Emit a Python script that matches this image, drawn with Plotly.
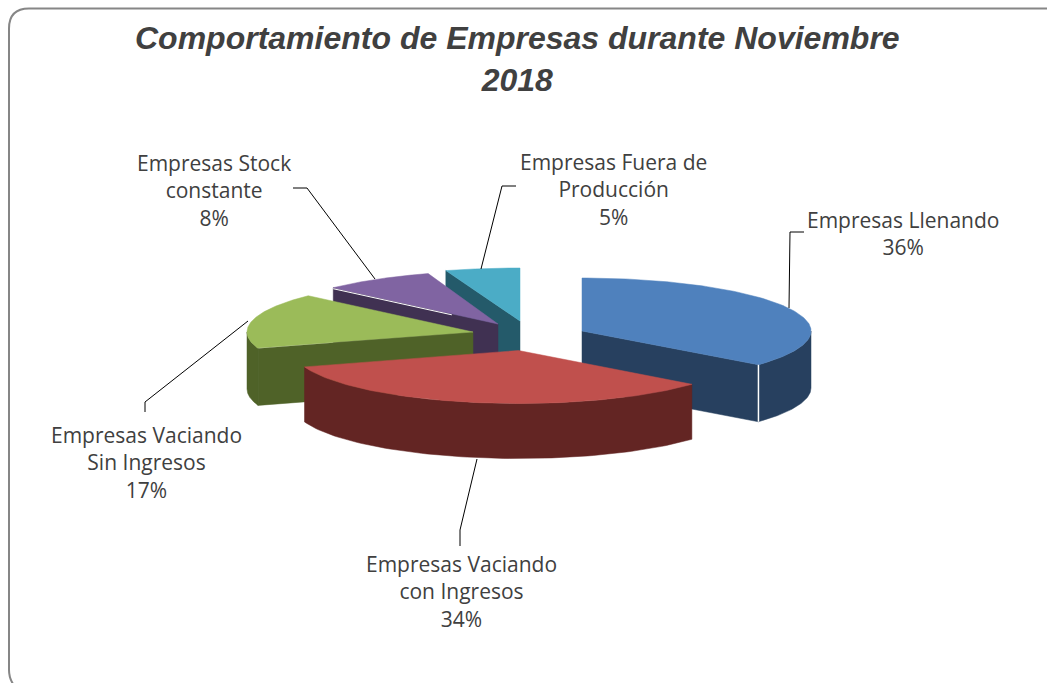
import numpy as np
import plotly.graph_objects as go

# ---- data ----
categories = ["Empresas Llenando", "Empresas Vaciando con Ingresos", "Empresas Vaciando Sin Ingresos",
              "Empresas Stock constante", "Empresas Fuera de Producción"]
values = [36, 34, 17, 8, 5]
label_lines = ["Empresas Llenando", "Empresas Vaciando<br>con Ingresos", "Empresas Vaciando<br>Sin Ingresos",
               "Empresas Stock<br>constante", "Empresas Fuera de<br>Producción"]
title_text = "Comportamiento de Empresas durante Noviembre<br>2018"

# ---- styling / layout of the pseudo-3D exploded pie ----
top_colors = ["#4F81BD", "#C0504D", "#9BBB59", "#8064A2", "#4BACC6"]
side_colors = ["#27405F", "#632523", "#4F6228", "#403152", "#245A6A"]
centers = [(582, 331), (518.5, 350.5), (473, 332), (498, 324), (520, 321)]   # exploded apex positions
radii_x = [229, 225, 226, 226, 240]
radius_y = 53
depths = [57, 55, 57, 57, 57]
label_pos = [(903, 233), (461, 591), (146, 462), (214, 190), (613, 189)]
leaders = [[(789, 308), (790, 232), (804, 232)],
           [(477, 459), (460, 530), (460, 546)],
           [(248, 321), (145, 402), (145, 412)],
           [(375, 279), (307, 188), (293, 188)],
           [(481, 269), (502, 186), (516, 186)]]
TEXT = "#404040"
W, H = 1047, 683


def rim(c, rx, deg):
    a = np.radians(deg)
    return c[0] + rx * np.sin(a), c[1] - radius_y * np.cos(a)


def poly(fig, pts, color):
    xs = [p[0] for p in pts] + [pts[0][0]]
    ys = [p[1] for p in pts] + [pts[0][1]]
    fig.add_trace(go.Scatter(x=xs, y=ys, mode="lines", fill="toself", fillcolor=color,
                             line=dict(color=color, width=0.5), hoverinfo="skip", showlegend=False))


fig = go.Figure()
edges = np.cumsum([0] + values) / sum(values) * 360

# back-to-front painting order
for i in [4, 3, 2, 0, 1]:
    a0, a1 = edges[i], edges[i + 1]
    c, rx, depth = centers[i], radii_x[i], depths[i]
    top, side = top_colors[i], side_colors[i]
    down = lambda p: (p[0], p[1] + depth)
    # radial faces turned towards the viewer
    if np.sin(np.radians(a0)) < -1e-6:
        r = rim(c, rx, a0)
        poly(fig, [c, r, down(r), down(c)], side)
    if np.sin(np.radians(a1)) > 1e-6:
        r = rim(c, rx, a1)
        poly(fig, [c, r, down(r), down(c)], side)
    # outer wall (front half only)
    w0, w1 = max(a0, 90), min(a1, 270)
    if w1 > w0:
        arc = [rim(c, rx, d) for d in np.linspace(w0, w1, 80)]
        poly(fig, arc + [down(p) for p in arc[::-1]], side)
    # top face
    arc = [rim(c, rx, d) for d in np.linspace(a0, a1, 120)]
    poly(fig, [c] + arc, top)

# thin highlights as in the original
shapes = []
hl = rim(centers[0], radii_x[0], edges[1])
shapes.append(dict(type="line", x0=hl[0], y0=hl[1], x1=hl[0], y1=hl[1] + depths[0],
                   line=dict(color="#FFFFFF", width=1.5), xref="x", yref="y"))
hl = rim(centers[3], radii_x[3], edges[3])
t = 0.72
shapes.append(dict(type="line", x0=hl[0], y0=hl[1] + 1,
                   x1=hl[0] + t * (centers[3][0] - hl[0]), y1=hl[1] + 1 + t * (centers[3][1] - hl[1]),
                   line=dict(color="#FFFFFF", width=1), xref="x", yref="y"))

# chart frame
r = 20
shapes.append(dict(type="path", xref="x", yref="y",
                   path=f"M 1100 8.5 L {9+r} 8.5 Q 9 8.5 9 {8.5+r} L 9 670 Q 9 680 16 688",
                   line=dict(color="#868686", width=2)))

# leader lines
for pts in leaders:
    path = "M " + " L ".join(f"{x} {y}" for x, y in pts)
    shapes.append(dict(type="path", xref="x", yref="y", path=path, line=dict(color="#000000", width=1)))

annotations = [dict(x=517.5, y=59, xref="x", yref="y", text=f"<b><i>{title_text}</i></b>", showarrow=False,
                    font=dict(family="Liberation Sans", size=32, color=TEXT), align="center",
                    xanchor="center", yanchor="middle")]
for lab, v, (x, y) in zip(label_lines, values, label_pos):
    annotations.append(dict(x=x, y=y, xref="x", yref="y", text=f"{lab}<br>{v}%", showarrow=False,
                            font=dict(family="Open Sans", size=21, color=TEXT), align="center",
                            xanchor="center", yanchor="middle"))

fig.update_layout(width=W, height=H, margin=dict(l=0, r=0, t=0, b=0),
                  paper_bgcolor="#FFFFFF", plot_bgcolor="#FFFFFF", showlegend=False,
                  xaxis=dict(range=[0, W], visible=False, fixedrange=True),
                  yaxis=dict(range=[H, 0], visible=False, fixedrange=True),
                  shapes=shapes, annotations=annotations)
fig.write_html("out.html", config=dict(displayModeBar=False),
               post_script="document.body.style.margin='0';")
